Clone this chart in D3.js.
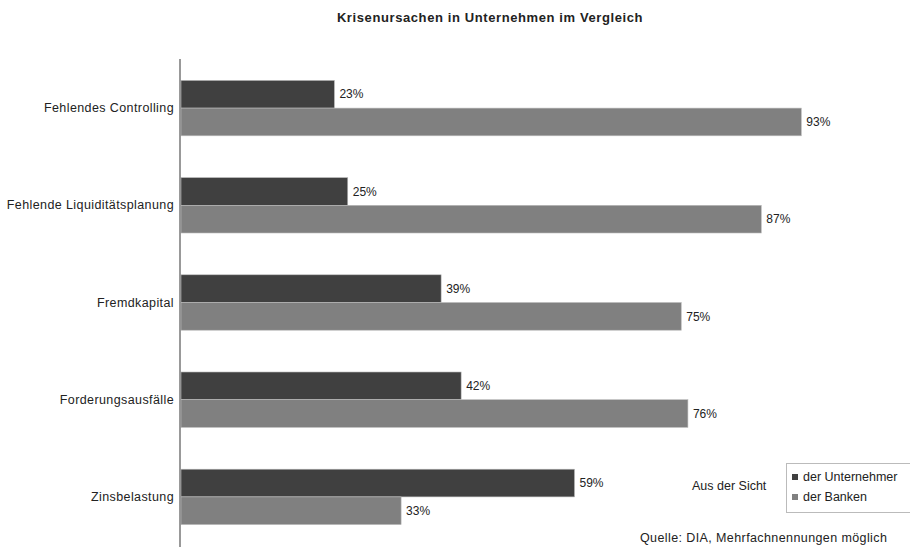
<!DOCTYPE html>
<html><head><meta charset="utf-8">
<script src="https://cdn.jsdelivr.net/npm/d3@7"></script>
<style>body{margin:0;background:#fff;} text{font-family:"Liberation Sans",Arial,sans-serif;}</style>
</head><body><svg id="c" width="910" height="547"></svg>
<script>
const categories = ["Fehlendes Controlling","Fehlende Liquiditätsplanung","Fremdkapital","Forderungsausfälle","Zinsbelastung"];
const seriesNames = ["der Unternehmer","der Banken"];
const unternehmer = [23,25,39,42,59];
const banken = [93,87,75,76,33];
const colors = ["#404040","#808080"];

const svg = d3.select("#c");
const x0 = 181;
const x = d3.scaleLinear().domain([0,100]).range([x0, x0+667]);
const y = d3.scaleBand().domain(categories).range([59.5,545.5]).paddingInner(0.43).paddingOuter(0.215);
const ys = d3.scaleBand().domain(seriesNames).range([0,y.bandwidth()]);

svg.append("text").attr("x",490).attr("y",22).attr("text-anchor","middle")
  .attr("font-size",13).attr("font-weight","bold").attr("letter-spacing",0.6).attr("fill","#222")
  .text("Krisenursachen in Unternehmen im Vergleich");

const data = [unternehmer, banken];
categories.forEach((c,i)=>{
  const g = svg.append("g").attr("transform",`translate(0,${y(c)})`);
  seriesNames.forEach((s,j)=>{
    const v = data[j][i];
    g.append("rect").attr("x",x(0)).attr("y",ys(s)).attr("width",x(v)-x(0)).attr("height",ys.bandwidth())
      .attr("fill",colors[j]).attr("stroke","#bbb").attr("stroke-width",0.6);
    g.append("text").attr("x",x(v)+5).attr("y",ys(s)+ys.bandwidth()/2).attr("dy","0.35em")
      .attr("font-size",12).attr("fill","#222").text(v+"%");
  });
});

const axis = d3.axisLeft(y).tickSize(0).tickPadding(6);
const ag = svg.append("g").attr("transform",`translate(${x0-1},0)`).call(axis);
ag.select(".domain").attr("stroke","#777").attr("stroke-width",1.5).attr("d","M0,59V547");
ag.selectAll(".tick text").attr("font-size",12.5).attr("letter-spacing",0.4).attr("fill","#222")
  .attr("font-family","'Liberation Sans',Arial,sans-serif");

svg.append("text").attr("x",692).attr("y",490).attr("font-size",12.5).attr("fill","#222").text("Aus der Sicht");
const lg = svg.append("g");
lg.append("rect").attr("x",786.5).attr("y",463.5).attr("width",130).attr("height",49).attr("fill","none").attr("stroke","#bbb");
seriesNames.forEach((s,j)=>{
  lg.append("rect").attr("x",792).attr("y",474+j*20).attr("width",6).attr("height",6).attr("fill",colors[j]);
  lg.append("text").attr("x",803).attr("y",477+j*20).attr("dy","0.35em").attr("font-size",12.5).attr("fill","#222").text(s);
});
svg.append("text").attr("x",640).attr("y",542).attr("font-size",12.5).attr("letter-spacing",0.4).attr("fill","#222").text("Quelle: DIA, Mehrfachnennungen möglich");
</script></body></html>
